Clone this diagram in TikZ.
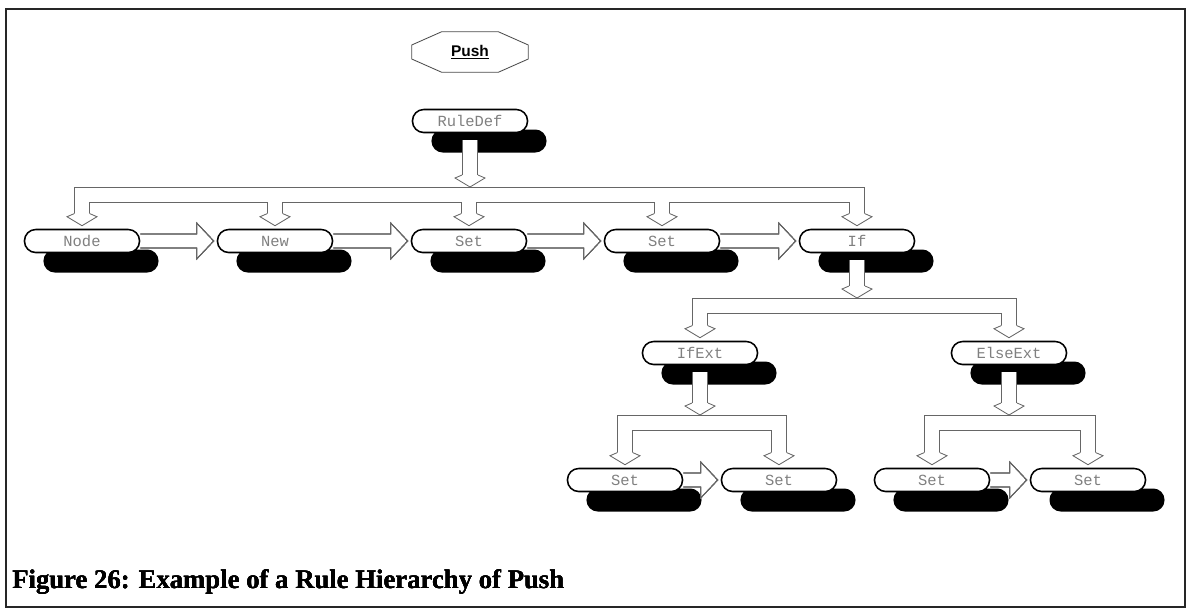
\documentclass[tikz,border=0pt]{standalone}
\usepackage{fontspec}
\setmainfont{Liberation Serif}
\newfontfamily\boxfont{Liberation Mono}
\newfontfamily\labelfont{Liberation Sans}
\usetikzlibrary{calc,shadows}

\tikzset{
  rulebox/.style={draw=black, line width=1.1pt, fill=white, rounded corners=0.28cm,
    minimum width=2.875cm, minimum height=0.575cm, inner sep=0pt,
    font=\boxfont\fontsize{11}{12}\selectfont, text=black!50,
    drop shadow={shadow xshift=0.475cm, shadow yshift=-0.5cm, fill=black, opacity=1}},
  pushbox/.style={minimum width=2.9cm, minimum height=1cm, inner sep=0pt,
    font=\labelfont\bfseries\fontsize{11}{12}\selectfont},
  pipe/.style={draw=black!60, line width=0.6pt, double=white, double distance=0.37cm},
  pipeline/.style={draw=black!60, line width=0.6pt},
}

% open head of a pipe, pointing down, tip at #1
\newcommand{\downhead}[1]{%
  \fill[white, shift={#1}] (-8,-12) -- (-15,-9) -- (0,0) -- (15,-9) -- (8,-12) -- cycle;
  \draw[pipeline, shift={#1}] (-8,-12) -- (-15,-9) -- (0,0) -- (15,-9) -- (8,-12);}
% hollow arrow from box #1 to box #2 on the same row
\newcommand{\sibarrow}[2]{%
  \draw[pipeline] ($(#1.east)+(0,-7)$) -- ($(#2.west)+(-20,-7)$) -- ($(#2.west)+(-20,-18)$)
    -- ($(#2.west)+(-3,0)$) -- ($(#2.west)+(-20,18)$) -- ($(#2.west)+(-20,7)$) -- ($(#1.east)+(0,7)$);}

\begin{document}
\begin{tikzpicture}[x=0.025cm, y=-0.025cm]
\useasboundingbox (0,0) rectangle (1192,613);
%Frame
\draw[line width=1.4pt, black!85] (6,9) rectangle (1185,607);
%Title
\node[pushbox] (push) at (470,52) {\underline{Push}};
\draw[black!70, line width=0.6pt] ($(push.north west)+(30,0)$) -- ($(push.north east)+(-30,0)$)
  -- ($(push.east)+(0,-7)$) -- ($(push.east)+(0,7)$) -- ($(push.south east)+(-30,0)$)
  -- ($(push.south west)+(30,0)$) -- ($(push.west)+(0,7)$) -- ($(push.west)+(0,-7)$) -- cycle;
%Root
\node[rulebox] (ruledef) at (470,121) {RuleDef};
%Row 1
\node[rulebox] (nodebox) at (82,241) {Node};
\node[rulebox] (newbox) at (275,241) {New};
\node[rulebox] (set1) at (469,241) {Set};
\node[rulebox] (set2) at (662,241) {Set};
\node[rulebox] (ifbox) at (857,241) {If};
%Row 2
\node[rulebox] (ifext) at (700,353) {IfExt};
\node[rulebox] (elseext) at (1009,353) {ElseExt};
%Row 3
\node[rulebox] (set3) at (625,480) {Set};
\node[rulebox] (set4) at (779,480) {Set};
\node[rulebox] (set5) at (932,480) {Set};
\node[rulebox] (set6) at (1088,480) {Set};
%Bus 1
\coordinate (bus1) at (470,195);
\draw[pipe] ($(ruledef.south)+(0,7)$) -- ($(bus1 -| ruledef.south)+(0,-20)$);
\downhead{($(bus1 -| ruledef.south)+(0,-8)$)}
\draw[pipe] ($(nodebox.north)+(0,-14)$) |- (bus1 -| ifbox.north) -- ($(ifbox.north)+(0,-14)$)
  ($(newbox.north)+(0,-14)$) -- (bus1 -| newbox.north)
  ($(set1.north)+(0,-14)$) -- (bus1 -| set1.north)
  ($(set2.north)+(0,-14)$) -- (bus1 -| set2.north);
\foreach \b in {nodebox,newbox,set1,set2,ifbox}
  \downhead{($(\b.north)+(0,-3)$)}
%Bus 2
\coordinate (bus2) at (857,306);
\draw[pipe] ($(ifbox.south)+(0,7)$) -- ($(bus2 -| ifbox.south)+(0,-20)$);
\downhead{($(bus2 -| ifbox.south)+(0,-8)$)}
\draw[pipe] ($(ifext.north)+(0,-14)$) |- (bus2 -| elseext.north) -- ($(elseext.north)+(0,-14)$);
\foreach \b in {ifext,elseext}
  \downhead{($(\b.north)+(0,-3)$)}
%Bus 3 and 4
\coordinate (bus3) at (700,423);
\coordinate (bus4) at (1009,423);
\draw[pipe] ($(ifext.south)+(0,7)$) -- ($(bus3 -| ifext.south)+(0,-20)$);
\downhead{($(bus3 -| ifext.south)+(0,-8)$)}
\draw[pipe] ($(elseext.south)+(0,7)$) -- ($(bus4 -| elseext.south)+(0,-20)$);
\downhead{($(bus4 -| elseext.south)+(0,-8)$)}
\draw[pipe] ($(set3.north)+(0,-14)$) |- (bus3 -| set4.north) -- ($(set4.north)+(0,-14)$);
\draw[pipe] ($(set5.north)+(0,-14)$) |- (bus4 -| set6.north) -- ($(set6.north)+(0,-14)$);
\foreach \b in {set3,set4,set5,set6}
  \downhead{($(\b.north)+(0,-3)$)}
%Arrows between boxes
\sibarrow{nodebox}{newbox}
\sibarrow{newbox}{set1}
\sibarrow{set1}{set2}
\sibarrow{set2}{ifbox}
\sibarrow{set3}{set4}
\sibarrow{set5}{set6}
%Caption
\node[anchor=base west, inner sep=0pt, font=\bfseries\fontsize{19}{22}\selectfont] (caption) at (12,588)
  {Figure 26: Example of a Rule Hierarchy of Push};
\end{tikzpicture}
\end{document}
